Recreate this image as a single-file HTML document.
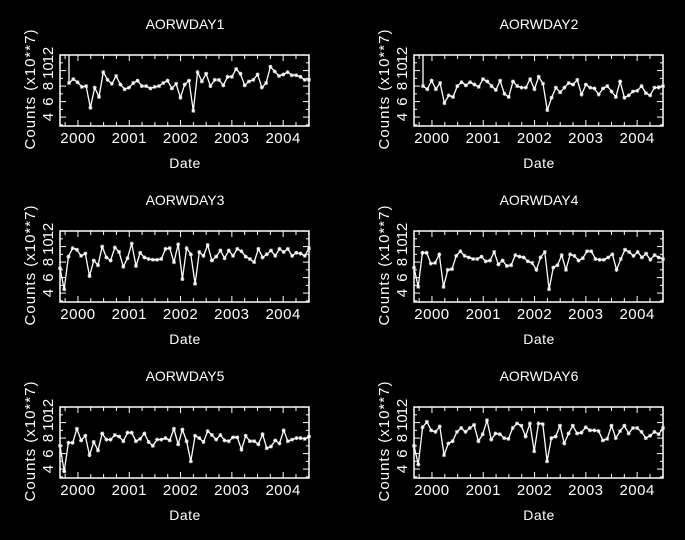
<!DOCTYPE html>
<html><head><meta charset="utf-8"><style>
html,body{margin:0;padding:0;background:#000;}
svg{display:block}
text{font-family:"Liberation Sans",sans-serif;fill:#fff}
</style></head><body>
<svg id="s" width="685" height="540" xmlns="http://www.w3.org/2000/svg"></svg>
<script>
var D=[
[8.4,8.9,8.5,7.9,8.0,5.2,7.8,6.6,9.8,8.8,8.3,9.3,8.2,7.6,7.8,8.4,8.7,8.0,8.0,7.7,7.9,8.0,8.4,8.7,7.7,8.3,6.5,8.2,8.7,4.8,9.8,8.6,9.6,8.0,8.8,8.8,8.1,9.2,9.2,10.2,9.6,8.1,8.6,8.8,9.5,7.8,8.4,10.5,9.9,9.3,9.5,9.8,9.4,9.4,9.2,8.8,8.8],
[8.0,7.6,8.7,7.6,8.4,5.8,6.8,6.6,8.0,8.5,8.1,8.5,8.2,7.9,8.9,8.6,8.0,7.5,8.7,7.0,6.6,8.6,8.0,7.8,7.8,8.9,7.6,9.2,8.3,4.9,6.5,7.8,7.2,7.8,8.4,8.2,8.8,6.9,8.2,7.8,7.7,6.9,7.7,8.0,7.3,6.6,8.6,6.5,6.8,7.3,7.4,8.0,7.1,6.8,7.8,7.8,8.0],
[7.2,4.5,8.7,9.8,9.6,8.8,9.1,6.2,8.2,7.6,10.0,8.6,8.2,9.9,9.3,7.4,8.5,10.4,7.5,9.2,8.6,8.4,8.3,8.3,8.4,9.7,9.8,8.0,10.3,5.8,9.8,9.0,5.2,9.3,8.8,10.2,8.2,8.7,9.5,8.5,9.5,8.8,9.7,9.4,8.7,8.4,8.0,9.7,8.6,9.0,9.5,8.8,9.7,9.3,9.7,8.8,9.2,9.1,8.8,9.8],
[7.3,4.8,9.2,9.2,7.8,7.9,9.0,4.8,7.0,7.1,8.8,9.4,8.8,8.6,8.4,8.4,8.7,8.1,8.2,9.3,7.7,8.2,7.5,7.6,8.9,8.7,8.6,8.1,7.9,7.0,8.6,9.3,4.5,7.3,7.6,8.9,7.0,9.0,8.8,8.2,8.5,9.4,9.4,8.4,8.3,8.3,8.6,9.0,7.0,8.4,9.6,9.3,8.8,9.3,8.6,9.1,8.3,8.9,8.6,8.4],
[7.0,3.7,7.4,7.4,9.2,7.7,8.3,5.8,7.5,6.4,8.6,7.8,7.8,8.4,8.2,7.6,8.7,8.7,7.6,7.9,8.6,7.5,7.0,7.8,7.8,8.0,7.7,9.2,7.2,9.1,7.6,5.0,8.3,8.0,7.5,8.9,8.4,7.8,8.4,7.7,7.6,8.1,8.1,6.5,8.3,7.6,7.6,7.2,8.5,6.7,6.9,7.7,7.3,9.0,7.6,7.8,8.0,8.0,7.9,8.2],
[7.0,4.6,9.4,10.1,9.0,8.8,9.5,5.8,7.3,7.6,8.8,9.3,8.8,9.3,9.7,7.6,8.5,10.3,7.8,8.6,8.5,8.0,7.9,9.3,9.9,9.6,8.2,9.9,6.3,9.9,9.8,5.0,8.0,8.2,9.6,7.3,8.6,9.6,8.6,8.7,9.4,9.0,9.0,8.9,7.7,7.9,9.6,8.0,8.9,9.6,8.6,9.3,9.3,8.8,8.0,8.3,8.8,8.5,9.3]];
var pos=[[60,55],[414,55],[60,231],[414,231],[60,407],[414,407]];
var W=249,H=71,h='';
function Y(v){return 71-(v-2.85)*7.75;}
for(var p=0;p<6;p++){
 var x0=pos[p][0],y0=pos[p][1];
 h+='<text x="'+(x0+125)+'" y="'+(y0-26)+'" font-size="14" text-anchor="middle">AORWDAY'+(p+1)+'</text>';
 h+='<g transform="translate('+x0+','+y0+')" stroke="#fff" fill="none" stroke-width="1">';
 h+='<rect x="0" y="0" width="'+W+'" height="'+H+'" stroke-width="1.5"/>';
 for(var q=0;q<20;q++){var yr=1999.75+q*0.25;var x=(yr-1999.65)*51.3;if(x<=0||x>=W)continue;var L=(q%4==1)?6:4;
  h+='<line x1="'+x+'" y1="'+H+'" x2="'+x+'" y2="'+(H-L)+'"/><line x1="'+x+'" y1="0" x2="'+x+'" y2="'+L+'"/>';}
 for(var v=3;v<=12;v++){var y=Y(v);var L=(v%2==0)?6:3;
  h+='<line x1="0" y1="'+y+'" x2="'+L+'" y2="'+y+'"/><line x1="'+W+'" y1="'+y+'" x2="'+(W-L)+'" y2="'+y+'"/>';}
 var d=D[p],s=(p<2)?9:0,n=d.length,pts=[];
 for(var i=0;i<n;i++){pts.push([s+(W-s)*i/(n-1),Y(d[i])]);}
 var path='M'+pts.map(function(a){return a[0].toFixed(1)+','+a[1].toFixed(1)}).join(' L');
 if(p<2)path='M'+s+',0 L'+path.slice(1);
 h+='<path d="'+path+'" stroke-width="1.3"/>';
 pts.forEach(function(a){var x=a[0],y=a[1];h+='<path d="M'+(x-2)+','+y+'h4M'+x+','+(y-2)+'v4M'+(x-1.5)+','+(y-1.5)+'l3,3M'+(x-1.5)+','+(y+1.5)+'l3,-3" stroke-width="0.8"/>';});
 h+='</g>';
 for(var yr=2000;yr<=2004;yr++){h+='<text x="'+(x0+(yr-1999.65)*51.3)+'" y="'+(y0+88)+'" font-size="15" letter-spacing="0.5" text-anchor="middle">'+yr+'</text>';}
 [4,6,8,10,12].forEach(function(v){var y=y0+Y(v);h+='<text transform="translate('+(x0-7)+','+y+') rotate(-90)" font-size="15" text-anchor="middle">'+v+'</text>';});
 h+='<text transform="translate('+(x0-25)+','+(y0+34)+') rotate(-90)" font-size="15" letter-spacing="1" text-anchor="middle">Counts (x10**7)</text>';
 h+='<text x="'+(x0+125)+'" y="'+(y0+113)+'" font-size="14" letter-spacing="0.5" text-anchor="middle">Date</text>';
}
document.getElementById('s').innerHTML=h;
</script>
</body></html>
